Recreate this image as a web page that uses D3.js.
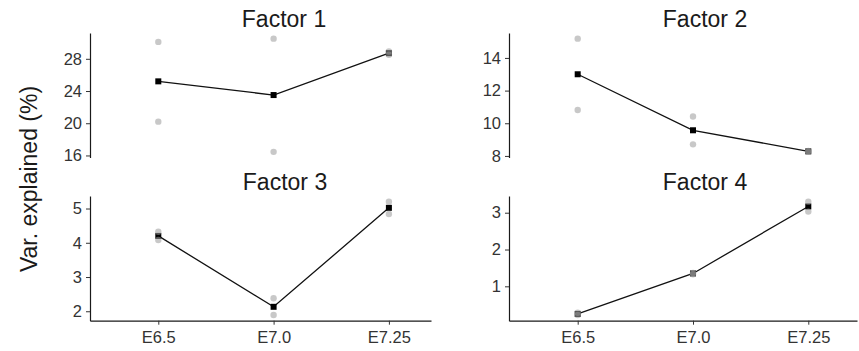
<!DOCTYPE html>
<html>
<head>
<meta charset="utf-8">
<script src="https://cdn.jsdelivr.net/npm/d3@7"></script>
<style>
	body { margin: 0; background: #fff; }
	svg { display: block; font-family: "Liberation Sans", Arial, Helvetica, sans-serif; }
</style>
</head>
<body>
<div id="chart"></div>
<script>
var stages = ['E6.5', 'E7.0', 'E7.25'];
var factorNames = ['Factor 1', 'Factor 2', 'Factor 3', 'Factor 4'];

// two replicates per stage, one array per replicate
var rep1 = [
	[30.1, 30.5, 28.9],
	[15.18, 10.41, 8.3],
	[4.32, 2.38, 5.2],
	[0.22, 1.36, 3.3]
];
var rep2 = [
	[20.2, 16.45, 28.5],
	[10.81, 8.71, 8.25],
	[4.08, 1.89, 4.84],
	[0.28, 1.33, 3.03]
];
var means = [
	[25.2, 23.5, 28.7],
	[13.0, 9.57, 8.28],
	[4.2, 2.13, 5.02],
	[0.25, 1.35, 3.17]
];
var yTicks = [
	[16, 20, 24, 28],
	[8, 10, 12, 14],
	[2, 3, 4, 5],
	[1, 2, 3]
];

var Chart = {

	panels: [
		{ x0: 90, x1: 431, ticks0: 158.3, titleX: 284, top: 33, bottom: 157.5, titleY: 27, xAxis: false },
		{ x0: 509, x1: 857, ticks0: 577.7, titleX: 705, top: 33, bottom: 157.5, titleY: 27, xAxis: false },
		{ x0: 90, x1: 431, ticks0: 158.3, titleX: 285, top: 196, bottom: 320.7, titleY: 190, xAxis: true },
		{ x0: 509, x1: 857, ticks0: 577.7, titleX: 705, top: 196, bottom: 320.7, titleY: 190, xAxis: true }
	],

	step: 115.3,

	init: function() {
		var svg = d3.select('#chart').append('svg')
			.attr('width', 859)
			.attr('height', 351);

		Chart.panels.forEach(function(p, i) {
			Chart.drawPanel(svg, p, i);
		});

		svg.append('text')
			.attr('transform', 'translate(37,179) rotate(-90)')
			.attr('text-anchor', 'middle')
			.style('font-size', '23px')
			.style('fill', '#1a1a1a')
			.text('Var. explained (%)');
	},

	styleAxis: function(sel) {
		sel.select('.domain').attr('stroke', '#1a1a1a').attr('stroke-width', 1.2);
		sel.selectAll('.tick line').attr('stroke', '#333');
		sel.selectAll('.tick text')
			.style('font-size', '16.5px')
			.style('fill', '#333')
			.style('font-family', '"Liberation Sans", Arial, sans-serif');
	},

	drawPanel: function(svg, p, i) {
		var all = rep1[i].concat(rep2[i]).concat(means[i]),
			lo = d3.min(all),
			hi = d3.max(all),
			pad = (hi - lo) * 0.05;

		var y = d3.scaleLinear()
			.domain([lo - pad, hi + pad])
			.range([p.bottom, p.top]);

		var x = d3.scaleLinear()
			.domain([(p.x0 - p.ticks0) / Chart.step, (p.x1 - p.ticks0) / Chart.step])
			.range([p.x0, p.x1]);

		var g = svg.append('g');

		// y axis
		var ya = g.append('g')
			.attr('transform', 'translate(' + p.x0 + ',0)')
			.call(d3.axisLeft(y).tickValues(yTicks[i]).tickFormat(d3.format('d'))
				.tickSize(4).tickPadding(4).tickSizeOuter(0));
		Chart.styleAxis(ya);

		if (p.xAxis) {
			var xa = g.append('g')
				.attr('transform', 'translate(0,' + p.bottom + ')')
				.call(d3.axisBottom(x).tickValues([0, 1, 2]).tickFormat(function(d) { return stages[d]; })
					.tickSize(4).tickPadding(7).tickSizeOuter(0));
			Chart.styleAxis(xa);
		}

		// mean line and squares
		var line = d3.line()
			.x(function(d, j) { return x(j); })
			.y(function(d) { return y(d); });

		g.append('path')
			.datum(means[i])
			.attr('d', line)
			.attr('fill', 'none')
			.attr('stroke', '#111')
			.attr('stroke-width', 1.3);

		g.selectAll('rect.mean')
			.data(means[i])
			.enter()
			.append('rect')
			.attr('class', 'mean')
			.attr('x', function(d, j) { return x(j) - 3; })
			.attr('y', function(d) { return y(d) - 3; })
			.attr('width', 6)
			.attr('height', 6)
			.attr('fill', '#000');

		// replicate points
		var pts = [];
		stages.forEach(function(s, j) {
			pts.push({ j: j, v: rep1[i][j] });
			pts.push({ j: j, v: rep2[i][j] });
		});

		g.selectAll('circle.rep')
			.data(pts)
			.enter()
			.append('circle')
			.attr('class', 'rep')
			.attr('cx', function(d) { return x(d.j); })
			.attr('cy', function(d) { return y(d.v); })
			.attr('r', 3.2)
			.attr('fill', '#9a9a9a')
			.attr('fill-opacity', 0.55);

		g.append('text')
			.attr('x', p.titleX)
			.attr('y', p.titleY)
			.attr('text-anchor', 'middle')
			.style('font-size', '23px')
			.style('fill', '#1a1a1a')
			.text(factorNames[i]);
	}
};

Chart.init();
</script>
</body>
</html>
